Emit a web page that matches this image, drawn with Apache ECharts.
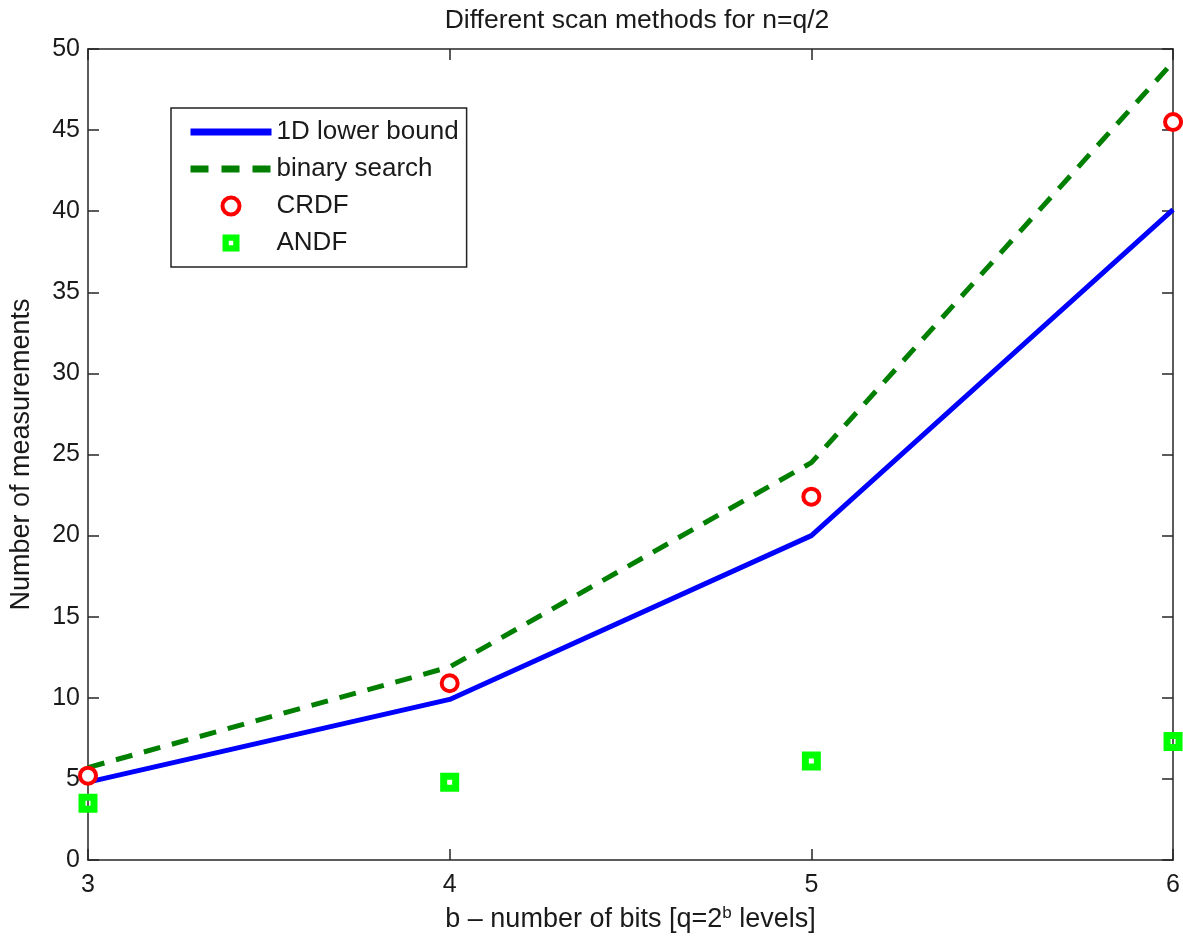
<!DOCTYPE html>
<html>
<head>
<meta charset="utf-8">
<script src="https://cdn.jsdelivr.net/npm/echarts@6/dist/echarts.min.js"></script>
<style>
html,body{margin:0;padding:0;background:#fff;}
#chart{width:1183px;height:943px;}
</style>
</head>
<body>
<div id="chart"></div>
<script>
// x categories: b - number of bits
const bits = [3, 4, 5, 6];
const lowerBound = [4.8, 9.9, 20.0, 40.1];
const binarySearch = [5.7, 11.9, 24.5, 49.2];
const crdf = [5.2, 10.9, 22.4, 45.5];
const andf = [3.5, 4.8, 6.1, 7.3];
const seriesNames = ['1D lower bound', 'binary search', 'CRDF', 'ANDF'];
const yTicks = [0, 5, 10, 15, 20, 25, 30, 35, 40, 45, 50];

const FONT = '"Liberation Sans", Arial, Helvetica, sans-serif';
const TXT = '#1a1a1a';
const AX = '#262626';

function pairs(ys) { return bits.map((b, i) => [b, ys[i]]); }

const squarePath = 'path://M0,0H19V19H0ZM7,7V12H12V7H7Z';

const chart = echarts.init(document.getElementById('chart'), null, {renderer: 'canvas'});

const axisCommon = {
  axisLine: {show: true, onZero: false, lineStyle: {color: AX, width: 1.5}},
  axisTick: {show: true, inside: true, length: 11, lineStyle: {color: AX, width: 1.5}},
  splitLine: {show: false}
};

chart.setOption({
  animation: false,
  backgroundColor: '#fff',
  title: {
    text: 'Different scan methods for n=q/2',
    left: 632,
    textAlign: 'center',
    top: 2,
    textStyle: {fontFamily: FONT, fontSize: 26.5, fontWeight: 'normal', color: TXT}
  },
  grid: {left: 88, right: 8, top: 49, bottom: 83, containLabel: false},
  legend: {
    orient: 'vertical',
    left: 171,
    top: 108,
    padding: [11, 8, 11, 16],
    itemGap: 11,
    itemWidth: 81,
    itemHeight: 17,
    backgroundColor: '#fff',
    borderColor: '#222',
    borderWidth: 1.5,
    borderRadius: 0,
    selectedMode: false,
    textStyle: {fontFamily: FONT, fontSize: 26, color: TXT},
    data: [
      {name: seriesNames[0], lineStyle: {width: 7, color: '#0000ff', type: 'solid'}, itemStyle: {opacity: 0}},
      {name: seriesNames[1], lineStyle: {width: 7, color: '#007f00', type: [18, 13]}, itemStyle: {opacity: 0}},
      {name: seriesNames[2], icon: 'circle', itemStyle: {color: '#fff', borderColor: '#ff0000', borderWidth: 4}},
      {name: seriesNames[3], icon: squarePath, itemStyle: {color: '#00ff00', borderWidth: 0}}
    ]
  },
  xAxis: [
    Object.assign({
      type: 'value', min: 3, max: 6, interval: 1, position: 'bottom',
      name: '{a|b – number of bits [q=2}{s|b}{a| levels]}',
      nameLocation: 'middle',
      nameGap: 45,
      nameTextStyle: {
        rich: {
          a: {fontFamily: FONT, fontSize: 27, color: TXT},
          s: {fontFamily: FONT, fontSize: 17, color: TXT, verticalAlign: 'bottom', padding: [0, 0, 12, 0]}
        }
      },
      axisLabel: {show: true, margin: 13, fontFamily: FONT, fontSize: 25, color: TXT}
    }, axisCommon),
    Object.assign({
      type: 'value', min: 3, max: 6, interval: 1, position: 'top',
      axisLabel: {show: false}
    }, axisCommon)
  ],
  yAxis: [
    Object.assign({
      type: 'value', min: 0, max: 50, interval: 5, position: 'left',
      name: 'Number of measurements',
      nameLocation: 'middle',
      nameGap: 53,
      nameTextStyle: {fontFamily: FONT, fontSize: 27, color: TXT},
      axisLabel: {show: true, margin: 8, fontFamily: FONT, fontSize: 25, color: TXT,
        formatter: v => (yTicks.indexOf(v) >= 0 ? String(v) : '')}
    }, axisCommon),
    Object.assign({
      type: 'value', min: 0, max: 50, interval: 5, position: 'right',
      axisLabel: {show: false}
    }, axisCommon)
  ],
  series: [
    {
      name: seriesNames[0], type: 'line', xAxisIndex: 0, yAxisIndex: 0,
      data: pairs(lowerBound), symbol: 'none', showSymbol: false,
      lineStyle: {color: '#0000ff', width: 5, join: 'round'},
      itemStyle: {color: '#0000ff'}, z: 3
    },
    {
      name: seriesNames[1], type: 'line', xAxisIndex: 0, yAxisIndex: 0,
      data: pairs(binarySearch), symbol: 'none', showSymbol: false,
      lineStyle: {color: '#007f00', width: 5, type: [17, 12]},
      itemStyle: {color: '#007f00'}, z: 3
    },
    {
      name: seriesNames[2], type: 'scatter', xAxisIndex: 0, yAxisIndex: 0,
      data: pairs(crdf), symbol: 'circle', symbolSize: 16, clip: false,
      itemStyle: {color: '#fff', borderColor: '#ff0000', borderWidth: 4, opacity: 1}, z: 4
    },
    {
      name: seriesNames[3], type: 'scatter', xAxisIndex: 0, yAxisIndex: 0,
      data: pairs(andf), symbol: squarePath, symbolSize: 19, clip: false,
      itemStyle: {color: '#00ff00', borderWidth: 0, opacity: 1}, z: 4
    }
  ]
});
</script>
</body>
</html>
